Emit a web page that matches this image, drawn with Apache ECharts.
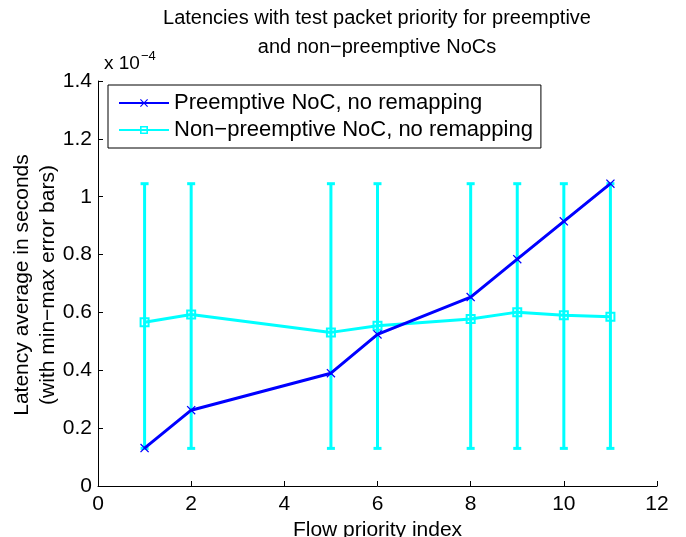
<!DOCTYPE html>
<html>
<head>
<meta charset="utf-8">
<script src="https://cdn.jsdelivr.net/npm/echarts@6/dist/echarts.min.js"></script>
<style>html,body{margin:0;padding:0;background:#fff}#chart{width:686px;height:537px}</style>
</head>
<body>
<div id="chart"></div>
<script>
// Values in units of 1e-4 seconds
var flowIndex = [1, 2, 5, 6, 8, 9, 10, 11];
var preemptive = [0.131, 0.262, 0.390, 0.524, 0.653, 0.784, 0.915, 1.045];
var nonPreemptive = [0.566, 0.593, 0.531, 0.554, 0.577, 0.601, 0.590, 0.585];
var errMin = [0.130, 0.130, 0.130, 0.130, 0.130, 0.130, 0.130, 0.130];
var errMax = [1.045, 1.045, 1.045, 1.045, 1.045, 1.045, 1.045, 1.045];
var xTicks = [0, 2, 4, 6, 8, 10, 12];
var yTicks = [0, 0.2, 0.4, 0.6, 0.8, 1, 1.2, 1.4];

var FONT = 'Liberation Sans, Arial, Helvetica, sans-serif';
var BLUE = '#0000ff';
var CYAN = '#00ffff';
var xSym = 'path://M0,1L1,0L5,4L9,0L10,1L6,5L10,9L9,10L5,6L1,10L0,9L4,5Z';
var sqSym = 'path://M0,0H10V10H0ZM2,2V8H8V2Z';

var chart = echarts.init(document.getElementById('chart'), null, {renderer: 'canvas'});
var option = {
  backgroundColor: '#fff',
  animation: false,
  textStyle: {fontFamily: FONT},
  grid: {left: 98, right: 29, top: 81, bottom: 51, containLabel: false, outerBoundsMode: 'none'},
  legend: {
    orient: 'vertical', left: 108, top: 85,
    data: ['Preemptive NoC, no remapping', 'Non\u2212preemptive NoC, no remapping'],
    backgroundColor: '#fff', borderColor: '#000', borderWidth: 1,
    padding: [7, 8, 7, 10], itemGap: 5, itemWidth: 50, itemHeight: 10,
    textStyle: {fontFamily: FONT, fontSize: 22, color: '#000'}
  },
  xAxis: {
    type: 'value', min: 0, max: 12, interval: 2,
    name: 'Flow priority index', nameLocation: 'middle', nameGap: 28,
    nameTextStyle: {fontFamily: FONT, fontSize: 21, color: '#000'},
    axisLine: {lineStyle: {color: '#000', width: 1}},
    axisTick: {inside: true, length: 5, lineStyle: {color: '#000'}},
    axisLabel: {fontFamily: FONT, fontSize: 21, color: '#000', margin: 8},
    splitLine: {show: false}
  },
  yAxis: {
    type: 'value', min: 0, max: 1.4, interval: 0.2,
    axisLine: {show: true, lineStyle: {color: '#000', width: 1}},
    axisTick: {show: true, inside: true, length: 5, lineStyle: {color: '#000'}},
    axisLabel: {fontFamily: FONT, fontSize: 21, color: '#000', margin: 6,
      formatter: function (v) { return String(Math.round(v * 10) / 10); }},
    splitLine: {show: false}
  },
  graphic: [
    {type: 'text', x: 377, y: 18,
     style: {text: 'Latencies with test packet priority for preemptive', fontFamily: FONT, fontSize: 20, fill: '#000', align: 'center', verticalAlign: 'middle'}},
    {type: 'text', x: 377, y: 47,
     style: {text: 'and non\u2212preemptive NoCs', fontFamily: FONT, fontSize: 20, fill: '#000', align: 'center', verticalAlign: 'middle'}},
    {type: 'text', left: 104, top: 50,
     style: {text: '{a|x 10}{s|\u22124}', fontFamily: FONT,
       rich: {a: {fontSize: 19, fontFamily: FONT, fill: '#000', verticalAlign: 'bottom'},
              s: {fontSize: 13, fontFamily: FONT, fill: '#000', verticalAlign: 'top', padding: [0, 0, 10, 1]}}}},
    {type: 'text', x: 22, y: 285, rotation: Math.PI / 2,
     style: {text: 'Latency average in seconds', fontFamily: FONT, fontSize: 21, fill: '#000', align: 'center', verticalAlign: 'middle'}},
    {type: 'text', x: 48, y: 285, rotation: Math.PI / 2,
     style: {text: '(with min\u2212max error bars)', fontFamily: FONT, fontSize: 21, fill: '#000', align: 'center', verticalAlign: 'middle'}}
  ],
  series: [
    {
      type: 'custom', name: 'errbars', silent: true, z: 2,
      data: flowIndex.map(function (x, i) { return [x, errMin[i], errMax[i]]; }),
      renderItem: function (params, api) {
        var lo = api.coord([api.value(0), api.value(1)]);
        var hi = api.coord([api.value(0), api.value(2)]);
        var hw = 4;
        var st = {stroke: CYAN, lineWidth: 3};
        return {type: 'group', children: [
          {type: 'line', shape: {x1: lo[0], y1: lo[1], x2: hi[0], y2: hi[1]}, style: st},
          {type: 'line', shape: {x1: lo[0] - hw, y1: lo[1], x2: lo[0] + hw, y2: lo[1]}, style: st},
          {type: 'line', shape: {x1: hi[0] - hw, y1: hi[1], x2: hi[0] + hw, y2: hi[1]}, style: st}
        ]};
      }
    },
    {
      type: 'line', name: 'Non\u2212preemptive NoC, no remapping', z: 3,
      data: flowIndex.map(function (x, i) { return [x, nonPreemptive[i]]; }),
      symbol: sqSym, symbolSize: 10, showAllSymbol: true,
      lineStyle: {color: CYAN, width: 3},
      itemStyle: {color: CYAN, borderWidth: 0}
    },
    {
      type: 'line', name: 'Preemptive NoC, no remapping', z: 4,
      data: flowIndex.map(function (x, i) { return [x, preemptive[i]]; }),
      symbol: xSym, symbolSize: 9, showAllSymbol: true,
      lineStyle: {color: BLUE, width: 3},
      itemStyle: {color: BLUE, borderWidth: 0}
    }
  ]
};
chart.setOption(option);
</script>
</body>
</html>
